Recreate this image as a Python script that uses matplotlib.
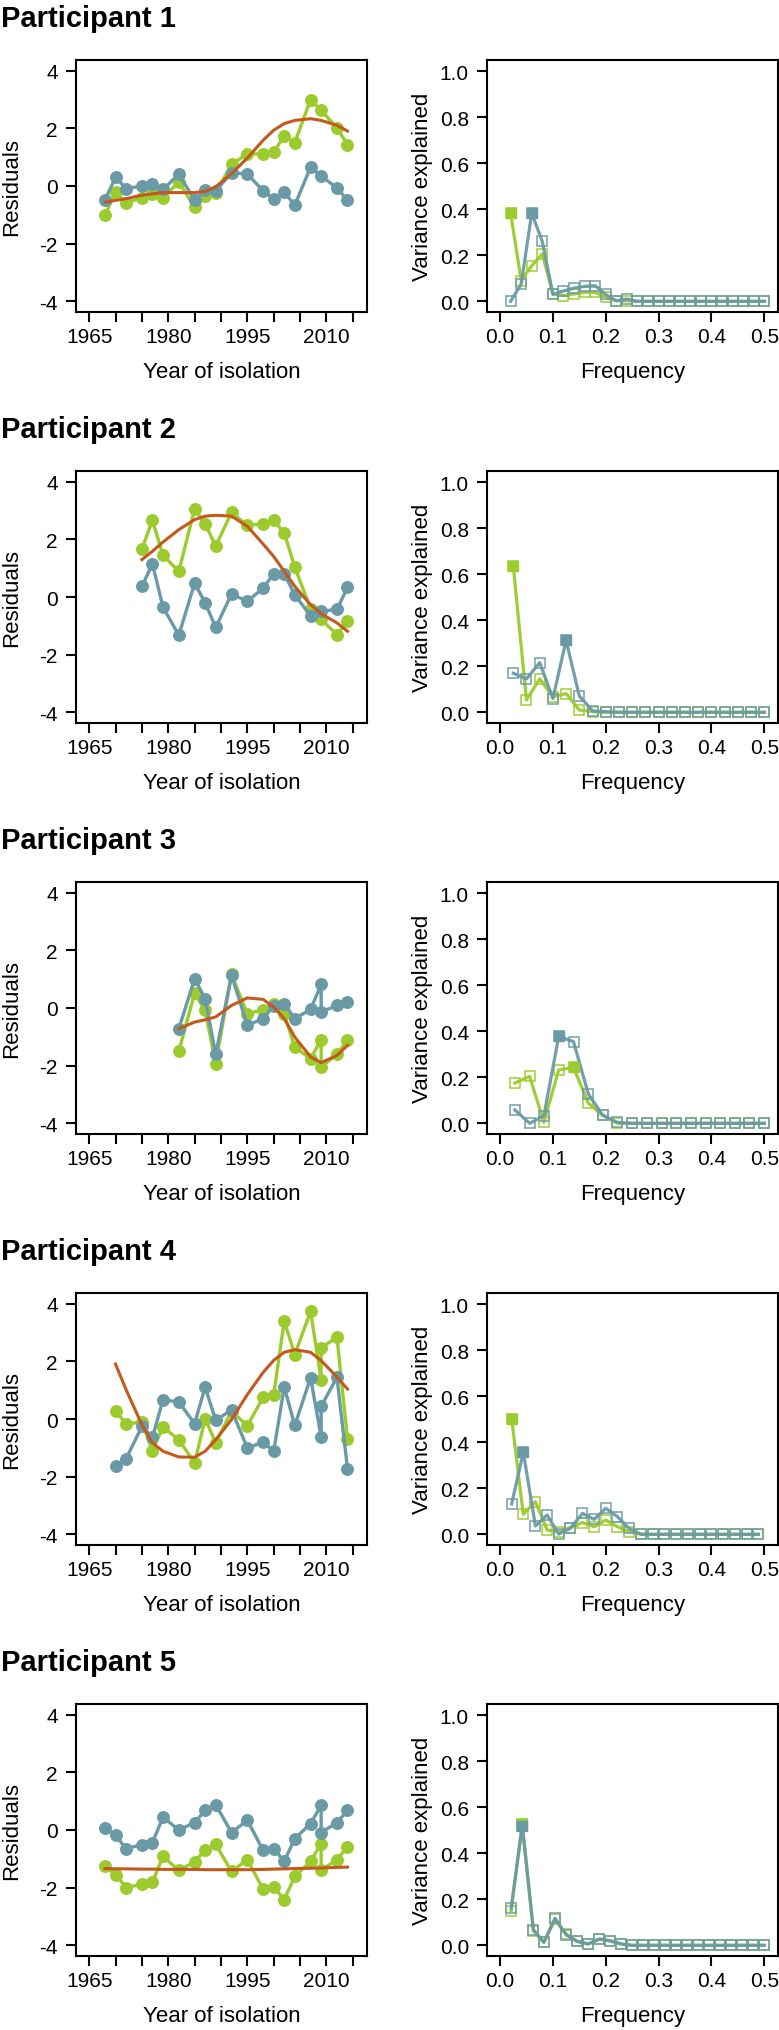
import matplotlib.pyplot as plt
import numpy as np

plt.rcParams['font.family'] = ['Liberation Sans', 'DejaVu Sans']
plt.rcParams['axes.unicode_minus'] = False

GREEN = '#9BCB2C'
BLUE = '#6A9AA5'
ORANGE = '#C4581D'

# ---- Residuals over year of isolation ----
years_1 = [1968, 1970, 1972, 1975, 1977, 1979, 1982, 1985, 1987, 1989, 1992, 1995,
           1998, 2000, 2002, 2004, 2007, 2009, 2012, 2014]
green_1 = [-1.02, -0.21, -0.59, -0.41, -0.29, -0.41, 0.14, -0.74, -0.35, -0.23, 0.75, 1.12,
           1.11, 1.18, 1.74, 1.51, 3.00, 2.63, 2.02, 1.44]
blue_1 = [-0.49, 0.31, -0.09, 0.00, 0.07, -0.12, 0.41, -0.49, -0.13, -0.17, 0.46, 0.42,
          -0.17, -0.44, -0.21, -0.67, 0.66, 0.35, -0.07, -0.49]
trend_1 = [-0.56, -0.50, -0.44, -0.32, -0.27, -0.23, -0.23, -0.23, -0.19, -0.03, 0.43, 0.97,
           1.59, 1.94, 2.17, 2.28, 2.34, 2.28, 2.11, 1.91]

years_2 = [1975, 1977, 1979, 1982, 1985, 1987, 1989, 1992, 1995, 1998, 2000, 2002, 2004,
           2007, 2009, 2012, 2014]
green_2 = [1.67, 2.66, 1.45, 0.89, 3.06, 2.54, 1.77, 2.94, 2.49, 2.55, 2.66, 2.23, 1.04,
           -0.41, -0.78, -1.31, -0.82]
blue_2 = [0.37, 1.15, -0.35, -1.33, 0.48, -0.20, -1.06, 0.10, -0.15, 0.31, 0.81, 0.80, 0.08,
          -0.66, -0.50, -0.43, 0.34]
trend_2 = [1.30, 1.59, 1.91, 2.34, 2.69, 2.81, 2.84, 2.81, 2.46, 1.84, 1.41, 0.89, 0.37,
           -0.27, -0.58, -0.90, -1.19]

years_3 = [1982, 1985, 1987, 1989, 1992, 1995, 1998, 2000, 2002, 2004, 2007, 2009, 2009,
           2012, 2014]
green_3 = [-1.51, 0.52, -0.08, -1.94, 1.17, -0.20, -0.06, 0.15, -0.20, -1.36, -1.76, -1.10,
           -2.05, -1.61, -1.12]
blue_3 = [-0.72, 1.02, 0.32, -1.61, 1.14, -0.60, -0.37, 0.07, 0.15, -0.37, -0.05, 0.82,
          -0.14, 0.09, 0.21]
trend_3 = [-0.72, -0.49, -0.41, -0.31, 0.09, 0.35, 0.30, 0.03, -0.37, -1.01, -1.70, -1.90,
           -1.90, -1.65, -1.30]

years_4 = [1970, 1972, 1975, 1977, 1979, 1982, 1985, 1987, 1989, 1992, 1995, 1998, 2000,
           2002, 2004, 2007, 2009, 2009, 2012, 2014]
green_4 = [0.27, -0.16, -0.12, -1.10, -0.28, -0.72, -1.53, 0.01, -0.83, 0.27, -0.23, 0.75,
           0.85, 3.40, 2.24, 3.74, 1.37, 2.47, 2.85, -0.70]
blue_4 = [-1.62, -1.38, -0.26, -0.64, 0.67, 0.59, -0.16, 1.11, -0.05, 0.32, -1.01, -0.80,
          -1.12, 1.11, -0.22, 1.43, -0.63, 0.44, 1.45, -1.73]
trend_4 = [1.91, 1.02, -0.20, -0.83, -1.12, -1.32, -1.33, -1.12, -0.72, -0.02, 0.85, 1.62,
           2.04, 2.32, 2.41, 2.32, 2.03, 2.03, 1.46, 1.04]

years_5 = [1968, 1970, 1972, 1975, 1977, 1979, 1982, 1985, 1987, 1989, 1992, 1995, 1998,
           2000, 2002, 2004, 2007, 2009, 2009, 2012, 2014]
green_5 = [-1.25, -1.55, -2.00, -1.89, -1.81, -0.92, -1.40, -1.11, -0.68, -0.50, -1.44, -1.03,
           -2.06, -1.98, -2.42, -1.61, -1.09, -0.48, -1.40, -1.03, -0.59]
blue_5 = [0.07, -0.19, -0.65, -0.51, -0.44, 0.45, 0.00, 0.26, 0.68, 0.88, -0.09, 0.34,
          -0.71, -0.65, -1.09, -0.30, 0.22, 0.86, -0.09, 0.26, 0.68]
trend_5 = [-1.34, -1.35, -1.35, -1.36, -1.36, -1.37, -1.37, -1.37, -1.38, -1.38, -1.38, -1.38,
           -1.37, -1.36, -1.35, -1.34, -1.33, -1.32, -1.32, -1.30, -1.29]

# ---- Variance explained by frequency ----
freq_1 = [0.02, 0.04, 0.06, 0.08, 0.10, 0.12, 0.14, 0.16, 0.18, 0.20, 0.22, 0.24, 0.26,
          0.28, 0.30, 0.32, 0.34, 0.36, 0.38, 0.40, 0.42, 0.44, 0.46, 0.48, 0.50]
var_green_1 = [0.383, 0.090, 0.155, 0.206, 0.032, 0.025, 0.032, 0.039, 0.039, 0.017, 0.003,
               0.002, 0, 0, 0, 0, 0, 0, 0, 0, 0, 0, 0, 0, 0]
var_blue_1 = [0.000, 0.075, 0.383, 0.260, 0.030, 0.045, 0.057, 0.065, 0.068, 0.030, 0.002,
              0.010, 0, 0, 0, 0, 0, 0, 0, 0, 0, 0, 0, 0, 0]

freq_2 = [0.025, 0.05, 0.075, 0.1, 0.125, 0.15, 0.175, 0.2, 0.225, 0.25, 0.275, 0.3,
          0.325, 0.35, 0.375, 0.4, 0.425, 0.45, 0.475, 0.5]
var_green_2 = [0.636, 0.054, 0.145, 0.068, 0.081, 0.010, 0.003, 0, 0, 0, 0, 0, 0, 0, 0, 0,
               0, 0, 0, 0]
var_blue_2 = [0.170, 0.145, 0.216, 0.060, 0.313, 0.071, 0.006, 0.003, 0, 0, 0, 0, 0, 0, 0,
              0, 0, 0, 0, 0]

freq_3 = [0.028, 0.056, 0.083, 0.111, 0.139, 0.167, 0.194, 0.222, 0.250, 0.278, 0.306,
          0.333, 0.361, 0.389, 0.417, 0.444, 0.472, 0.500]
var_green_3 = [0.175, 0.204, 0.004, 0.232, 0.243, 0.088, 0.035, 0.000, 0, 0, 0, 0, 0, 0, 0,
               0, 0, 0]
var_blue_3 = [0.058, 0.000, 0.033, 0.378, 0.355, 0.128, 0.036, 0.004, 0, 0, 0, 0, 0, 0, 0,
              0, 0, 0]

freq_4 = [0.022, 0.044, 0.067, 0.089, 0.111, 0.133, 0.156, 0.178, 0.200, 0.222, 0.244,
          0.267, 0.289, 0.311, 0.333, 0.356, 0.378, 0.400, 0.422, 0.444, 0.467, 0.489]
var_green_4 = [0.501, 0.087, 0.142, 0.019, 0.012, 0.029, 0.051, 0.033, 0.062, 0.033, 0.012,
               0, 0, 0, 0, 0, 0, 0, 0, 0, 0, 0]
var_blue_4 = [0.132, 0.357, 0.036, 0.084, 0.001, 0.026, 0.091, 0.065, 0.113, 0.077, 0.026,
              0, 0, 0, 0, 0, 0, 0, 0, 0, 0, 0]

freq_5 = [0.021, 0.042, 0.063, 0.083, 0.104, 0.125, 0.146, 0.167, 0.188, 0.208, 0.229,
          0.250, 0.271, 0.292, 0.313, 0.333, 0.354, 0.375, 0.396, 0.417, 0.438, 0.458,
          0.479, 0.500]
var_green_5 = [0.150, 0.527, 0.064, 0.013, 0.114, 0.049, 0.017, 0.006, 0.026, 0.019, 0.006,
               0, 0, 0, 0, 0, 0, 0, 0, 0, 0, 0, 0, 0]
var_blue_5 = [0.161, 0.520, 0.068, 0.013, 0.117, 0.046, 0.017, 0.006, 0.028, 0.020, 0.006,
              0, 0, 0, 0, 0, 0, 0, 0, 0, 0, 0, 0, 0]

participants = [
    (years_1, green_1, blue_1, trend_1, freq_1, var_green_1, var_blue_1),
    (years_2, green_2, blue_2, trend_2, freq_2, var_green_2, var_blue_2),
    (years_3, green_3, blue_3, trend_3, freq_3, var_green_3, var_blue_3),
    (years_4, green_4, blue_4, trend_4, freq_4, var_green_4, var_blue_4),
    (years_5, green_5, blue_5, trend_5, freq_5, var_green_5, var_blue_5),
]

year_ticks = [1965, 1970, 1975, 1980, 1985, 1990, 1995, 2000, 2005, 2010, 2015]
year_labels = ['1965', '', '', '1980', '', '', '1995', '', '', '2010', '']
resid_ticks = [-4, -2, 0, 2, 4]
freq_ticks = [0.0, 0.1, 0.2, 0.3, 0.4, 0.5]
var_ticks = [0.0, 0.2, 0.4, 0.6, 0.8, 1.0]

W, H = 779, 2031
fig = plt.figure(figsize=(W / 100, H / 100), dpi=100)


def px_axes(x, top, w, h):
    return fig.add_axes([x / W, 1 - (top + h) / H, w / W, h / H])


def style_axes(ax):
    for sp in ax.spines.values():
        sp.set_linewidth(1.5)
    ax.tick_params(axis='both', length=7, width=1.5, labelsize=15)
    ax.tick_params(axis='x', pad=4)
    ax.tick_params(axis='y', pad=6)


for i, (yrs, g, b, tr, fq, vg, vb) in enumerate(participants):
    top = 61 + 411 * i
    fig.text(1 / W, 1 - (5 + 411 * i) / H, f'Participant {i + 1}', fontsize=21,
             fontweight='bold', va='top', ha='left')

    # left: residuals
    ax = px_axes(76, top, 291, 252)
    ax.plot(yrs, g, color=GREEN, lw=2.4, marker='o', ms=8.3, mec=GREEN, zorder=2)
    ax.plot(yrs, b, color=BLUE, lw=2.4, marker='o', ms=8.3, mec=BLUE, zorder=3)
    ax.plot(yrs, tr, color=ORANGE, lw=2.2, zorder=4)
    ax.set_xlim(1962.5, 2017.7)
    ax.set_ylim(-4.38, 4.38)
    ax.set_xticks(year_ticks)
    ax.set_xticklabels(year_labels)
    ax.set_yticks(resid_ticks)
    ax.set_yticklabels([str(t) for t in resid_ticks])
    ax.set_xlabel('Year of isolation', fontsize=16, va='top')
    ax.set_ylabel('Residuals', fontsize=16)
    ax.xaxis.set_label_coords(0.5, -0.195)
    ax.yaxis.set_label_coords(-0.186, 0.5)
    style_axes(ax)

    # right: variance explained
    ax2 = px_axes(487, top, 291, 252)
    for vals, col, z in ((vg, GREEN, 2), (vb, BLUE, 3)):
        ax2.plot(fq, vals, color=col, lw=2.3, marker='s', ms=7.4, mfc='none', mec=col,
                 mew=1.1, alpha=0.95, zorder=z)
        k = int(np.argmax(vals))
        ax2.plot([fq[k]], [vals[k]], color=col, marker='s', ms=7.8, mec=col, ls='none',
                 zorder=z + 2)
    ax2.set_xlim(-0.0247, 0.526)
    ax2.set_ylim(-0.0465, 1.049)
    ax2.set_xticks(freq_ticks)
    ax2.set_xticklabels([f'{t:.1f}' for t in freq_ticks])
    ax2.set_yticks(var_ticks)
    ax2.set_yticklabels([f'{t:.1f}' for t in var_ticks])
    ax2.set_xlabel('Frequency', fontsize=16, va='top')
    ax2.set_ylabel('Variance explained', fontsize=16)
    ax2.xaxis.set_label_coords(0.5, -0.195)
    ax2.yaxis.set_label_coords(-0.186, 0.5)
    style_axes(ax2)

fig.savefig('out.png', dpi=100)
